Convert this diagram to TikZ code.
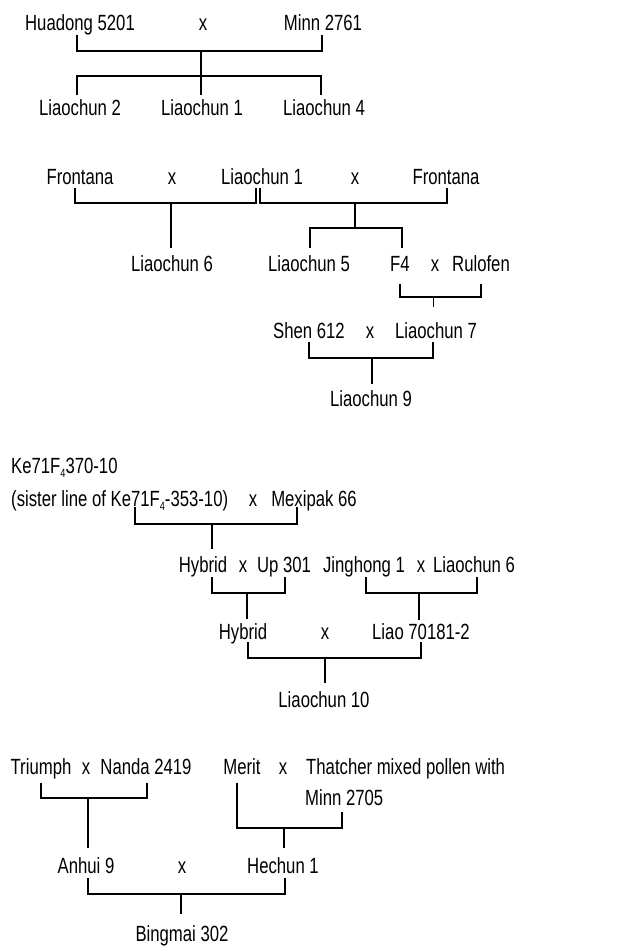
\documentclass[tikz,border=0pt]{standalone}
\usepackage{fontspec}
\setmainfont{Liberation Sans}[FakeStretch=0.76]
\begin{document}
\begin{tikzpicture}[x=1pt,y=-1pt,
  lbl/.style={inner sep=0pt,anchor=base,font=\fontsize{22}{26}\selectfont},
  lblw/.style={lbl,anchor=base west},
  ln/.style={line width=1.8pt,line join=miter,line cap=rect}]
\useasboundingbox (0,0) rectangle (618,947);
\newcommand{\sbf}{\raisebox{-0.35ex}{\fontsize{12}{12}\selectfont 4}}
% ---------- Section 1 ----------
\node[lbl] (hua) at (80,31) {Huadong 5201};
\node[lbl] (x1) at (203,31) {x};
\node[lbl] (minn) at (323,31) {Minn 2761};
\node[lbl] (lc2) at (80,116) {Liaochun 2};
\node[lbl] (lc1) at (202,116) {Liaochun 1};
\node[lbl] (lc4) at (324,116) {Liaochun 4};
\coordinate (a1) at (77,36); \coordinate (a2) at (322,36);
\coordinate (am) at (201,51); \coordinate (ab) at (201,94);
\coordinate (b1) at (77,94); \coordinate (b2) at (321,94);
\coordinate (bm) at (201,76);
\draw[ln] (a1) |- (am) -| (a2);
\draw[ln] (am) -- (ab);
\draw[ln] (b1) |- (bm) -| (b2);
% ---------- Section 2 ----------
\node[lbl] (fr1) at (80,184) {Frontana};
\node[lbl] (x2) at (172,184) {x};
\node[lbl] (lc1b) at (262,184) {Liaochun 1};
\node[lbl] (x3) at (355,184) {x};
\node[lbl] (fr2) at (446,184) {Frontana};
\node[lbl] (lc6) at (172,271) {Liaochun 6};
\node[lbl] (lc5) at (309,271) {Liaochun 5};
\node[lbl] (f4) at (400,271) {F4};
\node[lbl] (x4) at (435,271) {x};
\node[lbl] (rul) at (481,271) {Rulofen};
\node[lbl] (shen) at (309,338) {Shen 612};
\node[lbl] (x5) at (370,338) {x};
\node[lbl] (lc7) at (436,338) {Liaochun 7};
\node[lbl] (lc9) at (371,406) {Liaochun 9};
\coordinate (c1) at (75,189); \coordinate (c2) at (256,189);
\coordinate (cm) at (171,203); \coordinate (cb) at (171,247);
\draw[ln] (c1) |- (cm) -| (c2);
\draw[ln] (cm) -- (cb);
\coordinate (d1) at (260,189); \coordinate (d2) at (447,189);
\coordinate (dm) at (355,203); \coordinate (dj) at (355,228);
\coordinate (e1) at (310,247); \coordinate (e2) at (402,247);
\draw[ln] (d1) |- (dm) -| (d2);
\draw[ln] (dm) -- (dj);
\draw[ln] (e1) |- (dj) -| (e2);
\coordinate (f1) at (400,285); \coordinate (f2) at (481,285);
\coordinate (fm) at (433,297); \coordinate (fb) at (433,307);
\draw[ln] (f1) |- (fm) -| (f2);
\draw[line width=1pt] (fm) -- (fb);
\coordinate (g1) at (309,343); \coordinate (g2) at (433,343);
\coordinate (gm) at (372,358); \coordinate (gb) at (372,383);
\draw[ln] (g1) |- (gm) -| (g2);
\draw[ln] (gm) -- (gb);
% ---------- Section 3 ----------
\node[lblw] (ke) at (11,473) {Ke71F\sbf370-10};
\node[lblw] (sis) at (11,506) {(sister line of Ke71F\sbf-353-10)};
\node[lbl] (x6) at (253,506) {x};
\node[lbl] (mex) at (314,506) {Mexipak 66};
\node[lbl] (hy1) at (203,572) {Hybrid};
\node[lbl] (x7) at (243,572) {x};
\node[lbl] (up) at (284,572) {Up 301};
\node[lbl] (jh) at (364,572) {Jinghong 1};
\node[lbl] (x8) at (421,572) {x};
\node[lbl] (lc6b) at (474,572) {Liaochun 6};
\node[lbl] (hy2) at (243,639) {Hybrid};
\node[lbl] (x9) at (325,639) {x};
\node[lbl] (liao) at (421,639) {Liao 70181-2};
\node[lbl] (lc10) at (324,707) {Liaochun 10};
\coordinate (h1) at (135,508); \coordinate (h2) at (297,508);
\coordinate (hm) at (212,524); \coordinate (hb) at (212,548);
\draw[ln] (h1) |- (hm) -| (h2);
\draw[ln] (hm) -- (hb);
\coordinate (i1) at (212,578); \coordinate (i2) at (285,578);
\coordinate (im) at (247,593); \coordinate (ib) at (247,618);
\draw[ln] (i1) |- (im) -| (i2);
\draw[ln] (im) -- (ib);
\coordinate (j1) at (366,578); \coordinate (j2) at (477,578);
\coordinate (jm) at (419,593); \coordinate (jb) at (419,619);
\draw[ln] (j1) |- (jm) -| (j2);
\draw[ln] (jm) -- (jb);
\coordinate (k1) at (248,643); \coordinate (k2) at (421,643);
\coordinate (km) at (325,658); \coordinate (kb) at (325,682);
\draw[ln] (k1) |- (km) -| (k2);
\draw[ln] (km) -- (kb);
% ---------- Section 4 ----------
\node[lbl] (tri) at (41,774) {Triumph};
\node[lbl] (x10) at (86,774) {x};
\node[lbl] (nan) at (146,774) {Nanda 2419};
\node[lbl] (mer) at (242,774) {Merit};
\node[lbl] (x11) at (283,774) {x};
\node[lblw] (tha) at (306,774) {Thatcher mixed pollen with};
\node[lblw] (mi2) at (305,805) {Minn 2705};
\node[lbl] (anh) at (86,873) {Anhui 9};
\node[lbl] (x12) at (182,873) {x};
\node[lbl] (hec) at (283,873) {Hechun 1};
\node[lbl] (bing) at (182,941) {Bingmai 302};
\coordinate (l1) at (41,784); \coordinate (l2) at (147,784);
\coordinate (lm) at (88,798); \coordinate (lb) at (88,847);
\draw[ln] (l1) |- (lm) -| (l2);
\draw[ln] (lm) -- (lb);
\coordinate (m1) at (237,784); \coordinate (m2) at (342,813);
\coordinate (mm) at (284,828); \coordinate (mb) at (284,847);
\draw[ln] (m1) |- (mm) -| (m2);
\draw[ln] (mm) -- (mb);
\coordinate (n1) at (88,879); \coordinate (n2) at (285,879);
\coordinate (nm) at (181,894); \coordinate (nb) at (181,913);
\draw[ln] (n1) |- (nm) -| (n2);
\draw[ln] (nm) -- (nb);
\end{tikzpicture}
\end{document}
